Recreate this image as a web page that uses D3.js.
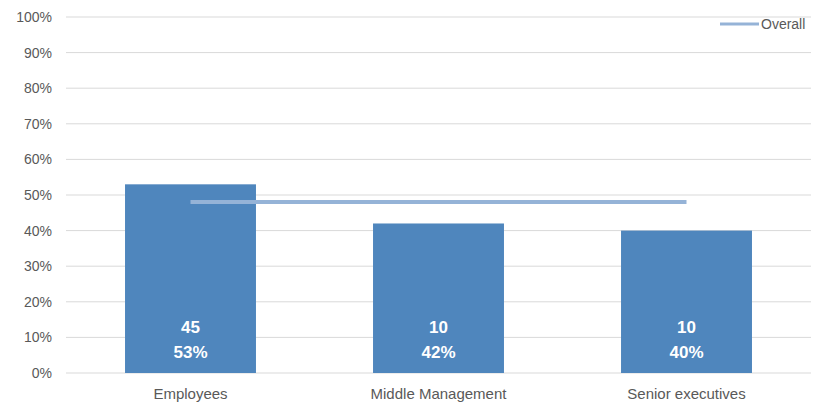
<!DOCTYPE html>
<html>
<head>
<meta charset="utf-8">
<script src="https://cdn.jsdelivr.net/npm/d3@7"></script>
<style>
  body { margin: 0; background: #fff; }
  text { font-family: "Liberation Sans", Arial, sans-serif; }
</style>
</head>
<body>
<div id="chart"></div>
<script>
// data
const categories = ["Employees", "Middle Management", "Senior executives"];
const counts = [45, 10, 10];
const shares = [53, 42, 40];      // percent
const overall = 48;               // percent, the flat "Overall" line
const yTicks = [0, 10, 20, 30, 40, 50, 60, 70, 80, 90, 100];

const W = 813, H = 404;
const margin = {top: 17, right: 2, bottom: 31, left: 66};
const width = W - margin.left - margin.right;
const height = H - margin.top - margin.bottom;

const svg = d3.select("#chart").append("svg")
  .attr("width", W).attr("height", H)
  .append("g")
  .attr("transform", `translate(${margin.left},${margin.top})`);

const x = d3.scaleBand().domain(categories).range([0, width])
  .paddingInner(0.472).paddingOuter(0.238);
const y = d3.scaleLinear().domain([0, 100]).range([height, 0]);

// gridlines
svg.selectAll("line.grid")
  .data(yTicks).enter()
  .append("line")
  .attr("class", "grid")
  .attr("x1", 0).attr("x2", width)
  .attr("y1", d => y(d)).attr("y2", d => y(d))
  .style("stroke", "#d9d9d9")
  .style("stroke-width", 1);

// y axis labels
svg.selectAll("text.ytick")
  .data(yTicks).enter()
  .append("text")
  .attr("class", "ytick")
  .attr("x", -14)
  .attr("y", d => y(d))
  .attr("dy", "0.35em")
  .attr("text-anchor", "end")
  .style("font-size", "14px")
  .style("fill", "#595959")
  .text(d => d + "%");

// bars
const rows = categories.map((c, i) => ({cat: c, n: counts[i], pct: shares[i]}));
svg.selectAll("rect.bar")
  .data(rows).enter()
  .append("rect")
  .attr("class", "bar")
  .attr("x", d => x(d.cat))
  .attr("width", x.bandwidth())
  .attr("y", d => y(d.pct))
  .attr("height", d => height - y(d.pct))
  .style("fill", "#4f86bd");

// labels inside bars
const lab = svg.selectAll("g.lab")
  .data(rows).enter()
  .append("g")
  .attr("class", "lab")
  .attr("transform", d => `translate(${x(d.cat) + x.bandwidth() / 2},0)`);
lab.append("text")
  .attr("y", y(13))
  .attr("text-anchor", "middle")
  .attr("dy", "0.35em")
  .style("font-size", "17px").style("font-weight", "bold").style("fill", "#fff")
  .text(d => d.n);
lab.append("text")
  .attr("y", y(5.8))
  .attr("text-anchor", "middle")
  .attr("dy", "0.35em")
  .style("font-size", "17px").style("font-weight", "bold").style("fill", "#fff")
  .text(d => d.pct + "%");

// overall line from first to last category centre
const cx = c => x(c) + x.bandwidth() / 2;
svg.append("path")
  .attr("d", d3.line()(categories.map(c => [cx(c), y(overall)])))
  .style("fill", "none")
  .style("stroke", "#95b3d7")
  .style("stroke-width", 4);

// x axis labels
svg.selectAll("text.xtick")
  .data(categories).enter()
  .append("text")
  .attr("class", "xtick")
  .attr("x", d => cx(d))
  .attr("y", height + 26)
  .attr("text-anchor", "middle")
  .style("font-size", "15px")
  .style("fill", "#595959")
  .text(d => d);

// legend
const leg = svg.append("g").attr("transform", `translate(${720 - margin.left},${24 - margin.top})`);
leg.append("line")
  .attr("x1", 0).attr("x2", 39).attr("y1", 0).attr("y2", 0)
  .style("stroke", "#95b3d7").style("stroke-width", 3);
leg.append("text")
  .attr("x", 41).attr("dy", "0.35em")
  .style("font-size", "14px").style("fill", "#595959")
  .text("Overall");
</script>
</body>
</html>
